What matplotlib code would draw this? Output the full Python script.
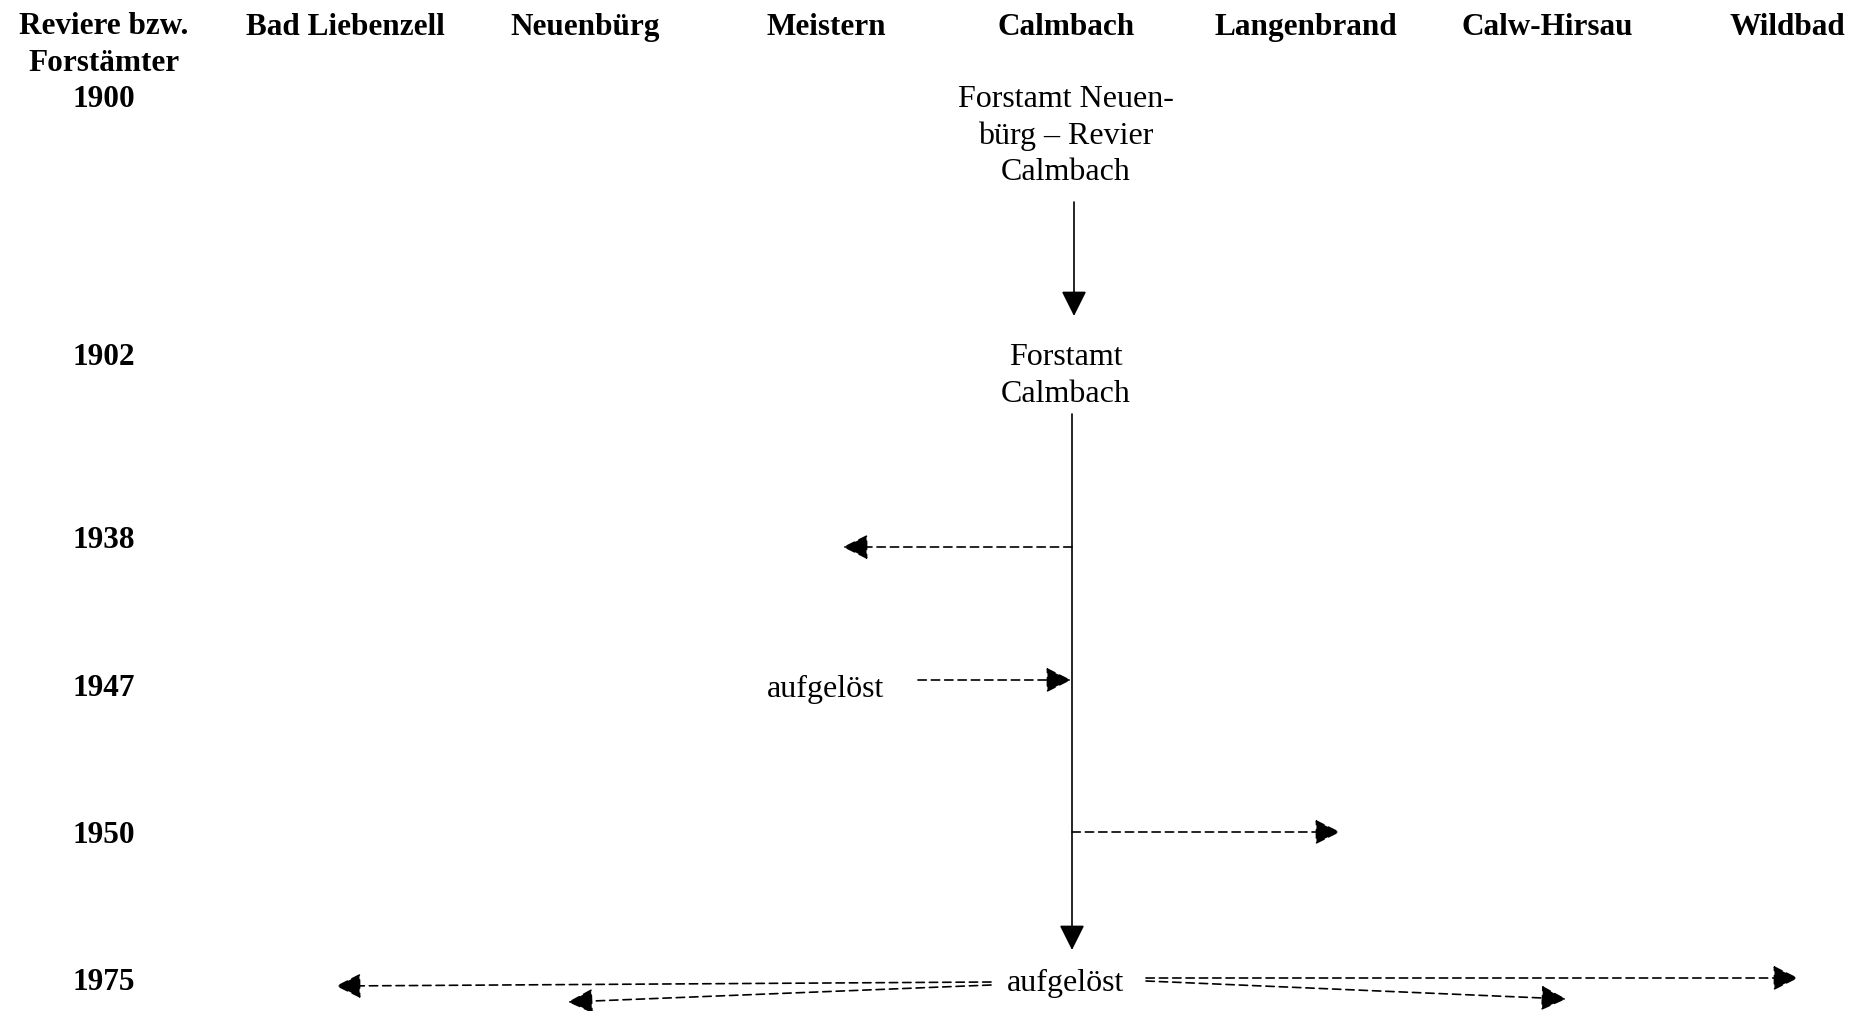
import matplotlib.pyplot as plt

# columns and rows of the chart
header = "Reviere bzw.\nForstämter"
reviere = ["Bad Liebenzell", "Neuenbürg", "Meistern", "Calmbach",
           "Langenbrand", "Calw-Hirsau", "Wildbad"]
jahre = [1900, 1902, 1938, 1947, 1950, 1975]

# what happened to the Calmbach revier
texte = [
    (1900, "Calmbach", "Forstamt Neuen-\nbürg – Revier\nCalmbach"),
    (1902, "Calmbach", "Forstamt\nCalmbach"),
    (1947, "Meistern", "aufgelöst"),
    (1975, "Calmbach", "aufgelöst"),
]
# dashed transfers: year, from, to
abgaben = [
    (1938, "Calmbach", "Meistern"),
    (1947, "Meistern", "Calmbach"),
    (1950, "Calmbach", "Langenbrand"),
    (1975, "Calmbach", "Bad Liebenzell"),
    (1975, "Calmbach", "Neuenbürg"),
    (1975, "Calmbach", "Wildbad"),
    (1975, "Calmbach", "Calw-Hirsau"),
]

# layout (pixels)
W, H = 1876, 1012
label_x = 104
col_x = dict(zip(reviere, [345, 585, 826, 1066, 1306, 1547, 1787]))
row_y = dict(zip(jahre, [96, 354, 538, 686, 833, 980]))
head_y = 24
tshift = 3  # text sits a little lower than the arrows
# vertical shift of the text blocks (centre of block vs. row)
text_dy = [37, 19, 0, 0]
# start / end offsets of each dashed arrow relative to column centre and row
abgabe_off = [
    ((6, 10), (17, 10)),
    ((92, -5), (5, -5)),
    ((6, 0), (34, 0)),
    ((-75, 3), (-9, 7)),
    ((-75, 6), (-17, 23)),
    ((80, -1), (11, -1)),
    ((80, 2), (19, 20)),
]

plt.rcParams['font.family'] = ['Liberation Serif', 'DejaVu Serif']
fs_b = 22.5
fs = 23
ls = 1.33

fig = plt.figure(figsize=(W / 100, H / 100), dpi=100)
ax = fig.add_axes([0, 0, 1, 1])
ax.set_xlim(0, W)
ax.set_ylim(H, 0)
ax.axis("off")

# header row
ax.text(label_x, head_y + 18 + tshift, header, ha="center", va="center",
        fontsize=fs_b, fontweight="bold", linespacing=ls)
for r in reviere:
    ax.text(col_x[r], head_y + tshift, r, ha="center", va="center",
            fontsize=fs_b, fontweight="bold")

# year labels (1900 sits under the header)
for j in jahre:
    ax.text(label_x, row_y[j] + tshift, str(j), ha="center", va="center",
            fontsize=fs_b, fontweight="bold")

# boxes of text
for (j, r, t), dy in zip(texte, text_dy):
    ax.text(col_x[r], row_y[j] + dy + tshift, t, ha="center", va="center",
            fontsize=fs, linespacing=ls)

arrow_kw = dict(arrowstyle="-|>,head_length=0.6,head_width=0.3",
                color="black", lw=1.2, shrinkA=0, shrinkB=0,
                mutation_scale=26)

# solid line of the Calmbach revier
cx = col_x["Calmbach"]
ax.annotate("", xy=(cx + 8, row_y[1902] - 37), xytext=(cx + 8, row_y[1900] + 107),
            arrowprops=arrow_kw)
ax.annotate("", xy=(cx + 6, row_y[1975] - 29), xytext=(cx + 6, row_y[1902] + 61),
            arrowprops=arrow_kw)

# dashed transfers
for (j, a, b), ((sx, sy), (ex, ey)) in zip(abgaben, abgabe_off):
    ax.annotate("", xy=(col_x[b] + ex, row_y[j] + ey),
                xytext=(col_x[a] + sx, row_y[j] + sy),
                arrowprops=dict(arrow_kw, linestyle=(0, (5, 3))))

fig.savefig("out.png", dpi=100)
